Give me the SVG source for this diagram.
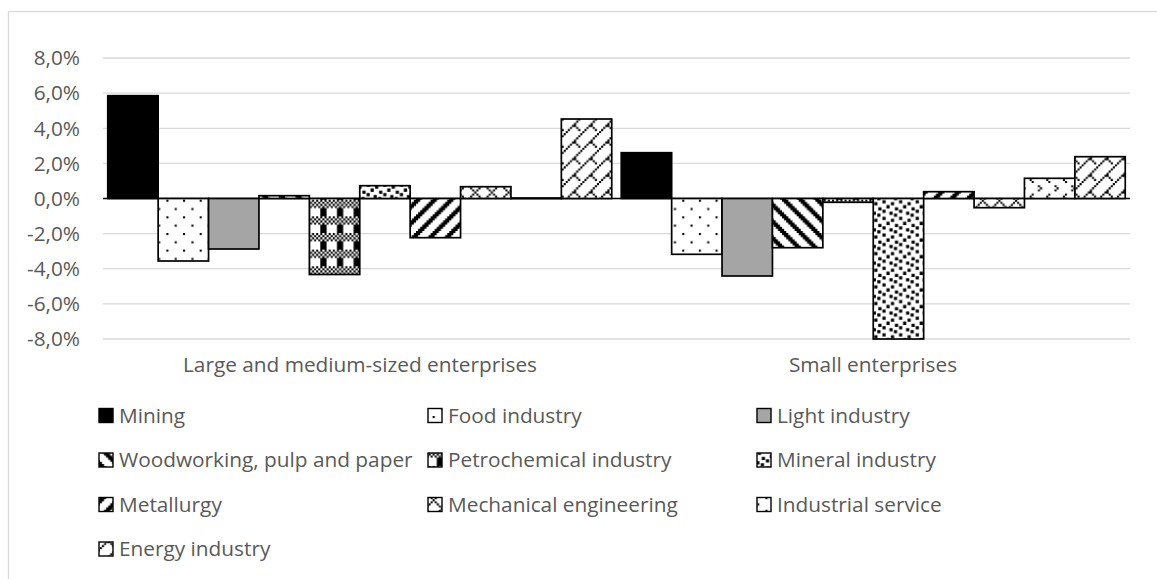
<svg xmlns="http://www.w3.org/2000/svg" width="1157" height="579" viewBox="0 0 1157 579">
<style>
.lbl{font-family:"Open Sans","Noto Sans",sans-serif;font-size:20.8px;fill:#595959}
.ax{text-anchor:end}
.cat{text-anchor:middle}
.grid{stroke:#d9d9d9;stroke-width:1.3;fill:none}
.bar{stroke:#000;stroke-width:1.7}
.key{stroke:#000;stroke-width:1.4}
</style>
<defs>
<pattern id="pDots" patternUnits="userSpaceOnUse" width="16.64" height="16.64">
<rect width="16.64" height="16.64" fill="#fff"/>
<g transform="scale(2.08)" fill="#000"><rect x="0" y="0" width="1" height="1"/><rect x="4" y="4" width="1" height="1"/></g>
</pattern>
<pattern id="pDn" patternUnits="userSpaceOnUse" width="16.64" height="16.64">
<rect width="16.64" height="16.64" fill="#fff"/>
<path transform="scale(2.08)" fill="#000" d="M0 0h3v1h-3zM1 1h3v1h-3zM2 2h3v1h-3zM3 3h3v1h-3zM4 4h3v1h-3zM5 5h3v1h-3zM6 6h2v1h-2zM0 6h1v1h-1zM7 7h1v1h-1zM0 7h2v1h-2z"/>
</pattern>
<pattern id="pUp" patternUnits="userSpaceOnUse" width="16.64" height="16.64">
<rect width="16.64" height="16.64" fill="#fff"/>
<path transform="scale(2.08)" fill="#000" d="M7 0h1v1h-1zM0 0h2v1h-2zM6 1h2v1h-2zM0 1h1v1h-1zM5 2h3v1h-3zM4 3h3v1h-3zM3 4h3v1h-3zM2 5h3v1h-3zM1 6h3v1h-3zM0 7h3v1h-3z"/>
</pattern>
<pattern id="pPlaid" patternUnits="userSpaceOnUse" width="16.64" height="16.64">
<rect width="16.64" height="16.64" fill="#fff"/>
<path transform="scale(2.08)" fill="#000" d="M0 0h1v1h-1zM2 0h1v1h-1zM4 0h1v1h-1zM6 0h1v1h-1zM1 1h1v1h-1zM3 1h1v1h-1zM5 1h1v1h-1zM7 1h1v1h-1zM0 2h1v1h-1zM2 2h1v1h-1zM4 2h1v1h-1zM6 2h1v1h-1zM1 3h1v1h-1zM3 3h1v1h-1zM5 3h1v1h-1zM7 3h1v1h-1zM2 4h3v4h-3z"/>
</pattern>
<pattern id="pConf" patternUnits="userSpaceOnUse" width="16.64" height="16.64">
<rect width="16.64" height="16.64" fill="#fff"/>
<path fill="#000" d="M0.5 0.5h3.2v3.2h-3.2zM9 2.5h3.2v3.2h-3.2zM4.5 5.5h3.2v3.2h-3.2zM13 7.5h3.2v3.2h-3.2zM0.5 10h3.2v3.2h-3.2zM7.5 12h3.2v3.2h-3.2zM12 14h3.2v2.64h-3.2zM12 0h3.2v0.6h-3.2z"/>
</pattern>
<pattern id="pDmnd" patternUnits="userSpaceOnUse" width="16.64" height="16.64">
<rect width="16.64" height="16.64" fill="#fff"/>
<path transform="scale(2.08)" fill="#000" d="M0 0h1v1h-1zM2 2h1v1h-1zM6 2h1v1h-1zM4 4h1v1h-1zM2 6h1v1h-1zM6 6h1v1h-1zM1 1h1v1h-1zM3 3h1v1h-1zM5 5h1v1h-1zM7 7h1v1h-1zM7 1h1v1h-1zM5 3h1v1h-1zM3 5h1v1h-1zM1 7h1v1h-1z"/>
</pattern>
<pattern id="pDivot" patternUnits="userSpaceOnUse" width="16.64" height="16.64">
<rect width="16.64" height="16.64" fill="#fff"/>
<path transform="scale(2.08)" fill="#000" d="M3 1h1v1h-1zM4 2h1v1h-1zM3 3h1v1h-1zM0 5h1v1h-1zM7 6h1v1h-1zM0 7h1v1h-1z"/>
</pattern>
<pattern id="pShingle" patternUnits="userSpaceOnUse" width="16.64" height="16.64">
<rect width="16.64" height="16.64" fill="#fff"/>
<path transform="scale(2.08)" fill="#000" d="M7 0h1v1h-1zM6 1h1v1h-1zM5 2h1v1h-1zM4 3h1v1h-1zM3 4h1v1h-1zM2 5h1v1h-1zM1 6h1v1h-1zM0 7h1v1h-1zM4 4h1v1h-1zM5 5h1v1h-1zM6 6h1v1h-1z"/>
</pattern>
</defs>
<rect x="8.5" y="11.5" width="1200" height="620" fill="#fff" stroke="#d9d9d9" stroke-width="1.3"/>
<g id="gridlines">
<path class="grid" d="M103 58H1130M103 93.1H1130M103 128.3H1130M103 163.4H1130M103 233.6H1130M103 268.7H1130M103 303.8H1130M103 339H1130"/>
</g>
<g id="y-axis-labels">
<text class="lbl ax" x="80" y="65.3">8,0%</text>
<text class="lbl ax" x="80" y="100.4">6,0%</text>
<text class="lbl ax" x="80" y="135.6">4,0%</text>
<text class="lbl ax" x="80" y="170.7">2,0%</text>
<text class="lbl ax" x="80" y="205.8">0,0%</text>
<text class="lbl ax" x="80" y="240.9">-2,0%</text>
<text class="lbl ax" x="80" y="276">-4,0%</text>
<text class="lbl ax" x="80" y="311.1">-6,0%</text>
<text class="lbl ax" x="80" y="346.3">-8,0%</text>
</g>
<g id="connectors">
<line x1="103" y1="198.5" x2="1130" y2="198.5" stroke="#000" stroke-width="1.4"/>
</g>
<g id="bars-large-medium">
<rect id="L-mining" class="bar" x="107.75" y="95.7" width="50.4" height="102.8" fill="#000"/>
<rect id="L-food" class="bar" x="158.15" y="198.5" width="50.4" height="62.5" fill="url(#pDots)"/>
<rect id="L-light" class="bar" x="208.55" y="198.5" width="50.4" height="50.5" fill="#a5a5a5"/>
<rect id="L-wood" class="bar" x="258.95" y="195.7" width="50.4" height="2.8" fill="url(#pDn)"/>
<rect id="L-petro" class="bar" x="309.35" y="198.5" width="50.4" height="76" fill="url(#pPlaid)"/>
<rect id="L-mineral" class="bar" x="359.75" y="185.7" width="50.4" height="12.8" fill="url(#pConf)"/>
<rect id="L-metal" class="bar" x="410.15" y="198.5" width="50.4" height="39.2" fill="url(#pUp)"/>
<rect id="L-mech" class="bar" x="460.55" y="186.7" width="50.4" height="11.8" fill="url(#pDmnd)"/>
<rect id="L-service" class="bar" x="510.95" y="198" width="50.4" height="0.6" fill="url(#pDivot)"/>
<rect id="L-energy" class="bar" x="561.35" y="119" width="50.4" height="79.5" fill="url(#pShingle)"/>
</g>
<g id="bars-small">
<rect id="S-mining" class="bar" x="621.25" y="152.7" width="50.4" height="45.8" fill="#000"/>
<rect id="S-food" class="bar" x="671.65" y="198.5" width="50.4" height="55.8" fill="url(#pDots)"/>
<rect id="S-light" class="bar" x="722.05" y="198.5" width="50.4" height="77.5" fill="#a5a5a5"/>
<rect id="S-wood" class="bar" x="772.45" y="198.5" width="50.4" height="49.2" fill="url(#pDn)"/>
<rect id="S-petro" class="bar" x="822.85" y="198.5" width="50.4" height="3.8" fill="url(#pPlaid)"/>
<rect id="S-mineral" class="bar" x="873.25" y="198.5" width="50.4" height="140.5" fill="url(#pConf)"/>
<rect id="S-metal" class="bar" x="923.65" y="191.7" width="50.4" height="6.8" fill="url(#pUp)"/>
<rect id="S-mech" class="bar" x="974.05" y="198.5" width="50.4" height="9.2" fill="url(#pDmnd)"/>
<rect id="S-service" class="bar" x="1024.45" y="178.3" width="50.4" height="20.2" fill="url(#pDivot)"/>
<rect id="S-energy" class="bar" x="1074.85" y="156.7" width="50.4" height="41.8" fill="url(#pShingle)"/>
</g>
<g id="category-labels">
<text class="lbl cat" x="360" y="372">Large and medium-sized enterprises</text>
<text class="lbl cat" x="873" y="372">Small enterprises</text>
</g>
<g id="legend">
<g id="leg-mining"><rect class="key" x="99" y="408.5" width="14" height="14" fill="#000"/><text class="lbl" x="119" y="422.5">Mining</text></g>
<g id="leg-food"><rect class="key" x="428" y="408.5" width="14" height="14" fill="url(#pDots)"/><text class="lbl" x="448" y="422.5">Food industry</text></g>
<g id="leg-light"><rect class="key" x="757" y="408.5" width="14" height="14" fill="#a5a5a5"/><text class="lbl" x="777" y="422.5">Light industry</text></g>
<g id="leg-wood"><rect class="key" x="99" y="453" width="14" height="14" fill="url(#pDn)"/><text class="lbl" x="119" y="467">Woodworking, pulp and paper</text></g>
<g id="leg-petro"><rect class="key" x="428" y="453" width="14" height="14" fill="url(#pPlaid)"/><text class="lbl" x="448" y="467">Petrochemical industry</text></g>
<g id="leg-mineral"><rect class="key" x="757" y="453" width="14" height="14" fill="url(#pConf)"/><text class="lbl" x="777" y="467">Mineral industry</text></g>
<g id="leg-metal"><rect class="key" x="99" y="497.5" width="14" height="14" fill="url(#pUp)"/><text class="lbl" x="119" y="511.5">Metallurgy</text></g>
<g id="leg-mech"><rect class="key" x="428" y="497.5" width="14" height="14" fill="url(#pDmnd)"/><text class="lbl" x="448" y="511.5">Mechanical engineering</text></g>
<g id="leg-service"><rect class="key" x="757" y="497.5" width="14" height="14" fill="url(#pDivot)"/><text class="lbl" x="777" y="511.5">Industrial service</text></g>
<g id="leg-energy"><rect class="key" x="99" y="542" width="14" height="14" fill="url(#pShingle)"/><text class="lbl" x="119" y="556">Energy industry</text></g>
</g>
</svg>
